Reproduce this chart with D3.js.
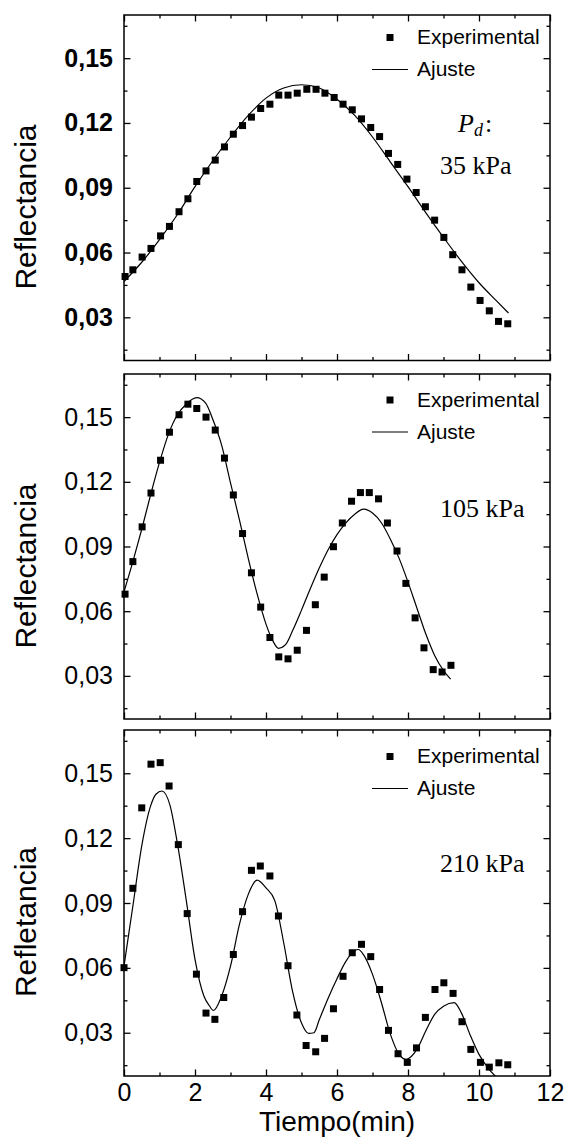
<!DOCTYPE html>
<html>
<head>
<meta charset="utf-8">
<script src="https://cdn.jsdelivr.net/npm/d3@7"></script>
<style>
body { margin:0; background:#fff; }
</style>
</head>
<body>
<svg class="chart"></svg>
<script>
// ---- data ----
var xTicks = [0, 2, 4, 6, 8, 10, 12];
var yTicks = [0.03, 0.06, 0.09, 0.12, 0.15];
var yLabels = ["Reflectancia", "Reflectancia", "Refletancia"];
var pressures = ["35 kPa", "105 kPa", "210 kPa"];
var legendNames = ["Experimental", "Ajuste"];

// 35 kPa
var time1 = [0.03,0.25,0.51,0.76,1.03,1.28,1.55,1.80,2.05,2.31,2.57,2.83,3.08,3.34,3.59,3.85,4.11,4.36,4.62,4.88,5.15,5.41,5.66,5.92,6.17,6.43,6.69,6.95,7.20,7.45,7.71,7.97,8.23,8.49,8.75,9.01,9.26,9.52,9.77,10.03,10.29,10.55,10.81];
var refl1 = [0.0489,0.052,0.0579,0.0619,0.0677,0.0721,0.0789,0.0849,0.0929,0.0978,0.1028,0.1089,0.1148,0.1188,0.1227,0.1267,0.1287,0.1329,0.1329,0.1338,0.1356,0.1356,0.1338,0.1318,0.1287,0.1261,0.1219,0.1179,0.1137,0.1059,0.1008,0.094,0.0878,0.0812,0.075,0.067,0.059,0.052,0.044,0.0378,0.033,0.0281,0.027];
var fitT1 = [0,0.5,1,1.5,2,2.5,3,3.5,4,4.5,5,5.5,6,6.5,7,7.5,8,8.5,9,9.5,10,10.5,10.83];
var fitR1 = [0.0466,0.0555,0.066,0.0775,0.0905,0.1025,0.1135,0.1235,0.1315,0.1362,0.1377,0.1362,0.131,0.1235,0.1135,0.102,0.0905,0.0785,0.067,0.056,0.046,0.0375,0.032];

// 105 kPa
var time2 = [0.03,0.25,0.51,0.76,1.03,1.28,1.55,1.80,2.05,2.31,2.57,2.83,3.08,3.34,3.59,3.85,4.11,4.36,4.62,4.88,5.14,5.39,5.64,5.90,6.15,6.41,6.66,6.91,7.17,7.42,7.69,7.94,8.20,8.45,8.71,8.96,9.21];
var refl2 = [0.0679,0.083,0.0991,0.1148,0.13,0.143,0.1511,0.156,0.154,0.15,0.144,0.131,0.1139,0.096,0.0778,0.0619,0.0478,0.0388,0.0379,0.0419,0.0511,0.063,0.0758,0.0899,0.1009,0.111,0.115,0.115,0.1121,0.1009,0.0879,0.0729,0.0569,0.043,0.0329,0.0318,0.0349];
var fitT2 = [0,0.25,0.5,0.75,1,1.25,1.5,1.75,2.05,2.3,2.5,2.75,3,3.25,3.5,3.75,4,4.2,4.35,4.55,4.75,5,5.25,5.5,5.75,6,6.25,6.5,6.75,7,7.25,7.5,7.75,8,8.25,8.5,8.75,9,9.2];
var fitR2 = [0.069,0.083,0.098,0.114,0.129,0.142,0.151,0.156,0.159,0.1565,0.149,0.137,0.1195,0.1025,0.0845,0.068,0.054,0.046,0.0428,0.0445,0.051,0.0605,0.0705,0.080,0.0885,0.0955,0.101,0.105,0.1073,0.1055,0.101,0.0935,0.0845,0.0735,0.0615,0.0495,0.0395,0.0325,0.0285];

// 210 kPa
var time3 = [0,0.25,0.50,0.76,1.02,1.27,1.53,1.78,2.04,2.31,2.56,2.81,3.08,3.34,3.59,3.84,4.11,4.35,4.62,4.87,5.13,5.40,5.65,5.90,6.17,6.43,6.69,6.95,7.20,7.45,7.72,7.98,8.24,8.49,8.76,9.01,9.27,9.52,9.77,10.04,10.29,10.56,10.81];
var refl3 = [0.0601,0.0968,0.134,0.1542,0.1549,0.1441,0.117,0.0851,0.0571,0.0391,0.0362,0.0463,0.0662,0.086,0.1051,0.1071,0.1025,0.084,0.061,0.0382,0.0241,0.0212,0.0274,0.0411,0.0561,0.067,0.0709,0.0652,0.05,0.0311,0.0203,0.0163,0.023,0.0371,0.05,0.0531,0.0482,0.0351,0.0223,0.0163,0.0141,0.0161,0.0152];
var fitT3 = [0,0.25,0.5,0.75,0.9,1.07,1.3,1.5,1.75,2,2.25,2.4,2.52,2.75,3,3.25,3.5,3.75,4,4.25,4.5,4.75,5,5.2,5.35,5.5,5.75,6,6.25,6.5,6.6,6.75,7,7.25,7.5,7.75,7.95,8.25,8.5,8.75,9,9.3,9.5,9.75,10,10.25,10.55];
var fitR3 = [0.0608,0.0886,0.1164,0.1349,0.1403,0.1418,0.1349,0.1179,0.0917,0.0639,0.047,0.0426,0.0403,0.047,0.0608,0.080,0.094,0.1006,0.097,0.091,0.0715,0.049,0.0345,0.0297,0.030,0.036,0.046,0.055,0.063,0.068,0.0685,0.066,0.057,0.044,0.0295,0.020,0.0177,0.0223,0.0308,0.0385,0.0423,0.0439,0.0393,0.029,0.020,0.0138,0.0085];

var series = [
	{t: time1, r: refl1, ft: fitT1, fr: fitR1},
	{t: time2, r: refl2, ft: fitT2, fr: fitR2},
	{t: time3, r: refl3, ft: fitT3, fr: fitR3}
];

// ---- layout ----
var W = 566, H = 1144;
var left = 124, right = 550;
var tops = [15, 374, 730], bottoms = [360.5, 719, 1076];
var legendTop = [22.5, 26, 26.5];
var sans = "'Liberation Sans', Arial, sans-serif";
var serif = "'Liberation Serif', 'Times New Roman', serif";

var chart = d3.select('.chart').attr('width', W).attr('height', H);

var x = d3.scaleLinear().domain([0, 12]).range([left, right]);

series.forEach(function(s, i){
	var top = tops[i], bottom = bottoms[i];
	var y = d3.scaleLinear().domain([0.01, 0.17]).range([bottom, top]);
	var g = chart.append('g').attr('class', 'panel' + i);

	// minor ticks
	var minorY = d3.range(0.015, 0.17, 0.03);
	var minorX = d3.range(1, 12, 2);
	g.append('g').attr('transform', 'translate(' + left + ',0)')
		.call(d3.axisLeft(y).tickValues(minorY).tickSize(-3.5).tickFormat(''));
	g.append('g').attr('transform', 'translate(' + right + ',0)')
		.call(d3.axisRight(y).tickValues(minorY).tickSize(-3.5).tickFormat(''));
	g.append('g').attr('transform', 'translate(0,' + bottom + ')')
		.call(d3.axisBottom(x).tickValues(minorX).tickSize(-3.5).tickFormat(''));
	g.append('g').attr('transform', 'translate(0,' + top + ')')
		.call(d3.axisTop(x).tickValues(minorX).tickSize(-3.5).tickFormat(''));

	// major ticks
	var yAxis = g.append('g').attr('class', 'y axis').attr('transform', 'translate(' + left + ',0)')
		.call(d3.axisLeft(y).tickValues(yTicks).tickSize(-6.5).tickPadding(11)
			.tickFormat(function(d){ return d3.format('.2f')(d).replace('.', ','); }));
	yAxis.selectAll('text')
		.attr('font-family', sans).attr('font-size', 25)
		.attr('font-weight', i === 0 ? 'bold' : 'normal')
		.attr('fill', '#000');
	g.append('g').attr('transform', 'translate(' + right + ',0)')
		.call(d3.axisRight(y).tickValues(yTicks).tickSize(-6.5).tickFormat(''));
	var xAxis = g.append('g').attr('transform', 'translate(0,' + bottom + ')')
		.call(d3.axisBottom(x).tickValues(xTicks).tickSize(-6.5).tickPadding(7)
			.tickFormat(i === 2 ? d3.format('d') : ''));
	xAxis.selectAll('text').attr('font-family', sans).attr('font-size', 25).attr('fill', '#000');
	g.append('g').attr('transform', 'translate(0,' + top + ')')
		.call(d3.axisTop(x).tickValues(xTicks).tickSize(-6.5).tickFormat(''));

	g.selectAll('.domain').remove();
	g.selectAll('.tick line').attr('stroke', '#000').attr('stroke-width', 1.3);

	// frame
	g.append('rect')
		.attr('x', left).attr('y', top)
		.attr('width', right - left).attr('height', bottom - top)
		.attr('fill', 'none').attr('stroke', '#000').attr('stroke-width', 1.5);

	// fit line, clipped to plot area
	g.append('clipPath').attr('id', 'clip' + i)
		.append('rect').attr('x', left).attr('y', top)
		.attr('width', right - left).attr('height', bottom - top);
	var line = d3.line()
		.x(function(d){ return x(d[0]); })
		.y(function(d){ return y(d[1]); })
		.curve(d3.curveMonotoneX);
	g.append('path')
		.datum(d3.zip(s.ft, s.fr))
		.attr('clip-path', 'url(#clip' + i + ')')
		.attr('fill', 'none')
		.attr('stroke', '#000')
		.attr('stroke-width', 1.2)
		.attr('d', line);

	// experimental points
	var sz = 7;
	g.append('g').selectAll('rect')
		.data(d3.zip(s.t, s.r))
		.enter()
		.append('rect')
		.attr('x', function(d){ return x(d[0]) - sz / 2; })
		.attr('y', function(d){ return y(d[1]) - sz / 2; })
		.attr('width', sz).attr('height', sz)
		.attr('fill', '#000');

	// legend
	var ly = top + legendTop[i];
	g.append('rect').attr('x', 390 - sz / 2).attr('y', ly - sz / 2)
		.attr('width', sz).attr('height', sz).attr('fill', '#000');
	g.append('text').attr('x', 417).attr('y', ly + 6.5)
		.attr('font-family', sans).attr('font-size', 21).text(legendNames[0]);
	g.append('line').attr('x1', 372).attr('x2', 408)
		.attr('y1', ly + 32).attr('y2', ly + 32)
		.attr('stroke', '#000').attr('stroke-width', 1.2);
	g.append('text').attr('x', 417).attr('y', ly + 38.5)
		.attr('font-family', sans).attr('font-size', 21).text(legendNames[1]);

	// pressure annotation
	var py = [174, 516.7, 871.7][i];
	g.append('text').attr('x', 440).attr('y', py)
		.attr('font-family', serif).attr('font-size', 26).text(pressures[i]);

	// y title
	g.append('text')
		.attr('transform', 'translate(35.5,' + (top + 192) + ') rotate(-90)')
		.attr('text-anchor', 'middle')
		.attr('font-family', sans).attr('font-size', 30)
		.text(yLabels[i]);
});

// P_d label on first panel
var pd = chart.append('text').attr('x', 458).attr('y', 132)
	.attr('font-family', serif).attr('font-size', 26);
pd.append('tspan').attr('font-style', 'italic').text('P');
pd.append('tspan').attr('font-style', 'italic').attr('font-size', 18).attr('dy', 4).text('d');
pd.append('tspan').attr('dy', -4).attr('dx', 2).text(':');

// x title
chart.append('text')
	.attr('x', (left + right) / 2).attr('y', 1131)
	.attr('text-anchor', 'middle')
	.attr('font-family', sans).attr('font-size', 28)
	.text('Tiempo(min)');
</script>
</body>
</html>
